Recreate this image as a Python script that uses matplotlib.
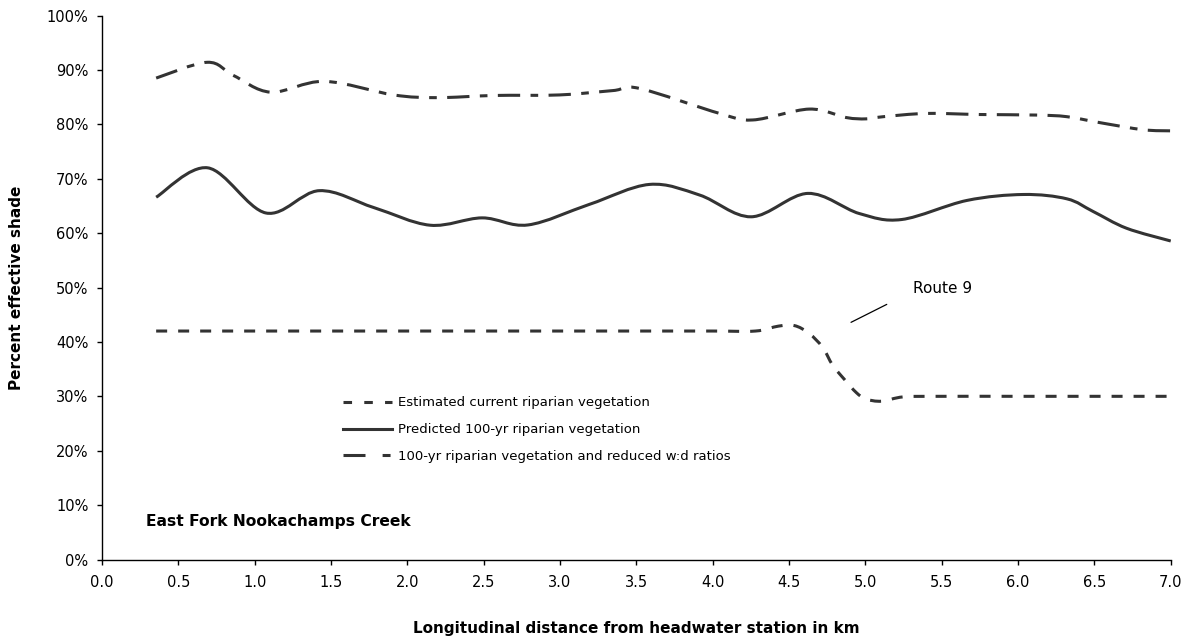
import numpy as np
import matplotlib
matplotlib.use("Agg")
import matplotlib.pyplot as plt
from matplotlib.path import Path
from matplotlib.patches import PathPatch
from matplotlib.lines import Line2D
from matplotlib.ticker import MultipleLocator, PercentFormatter

# values (km, % effective shade)
current_km = [0.355, 1.0, 1.5, 2.0, 2.5, 3.0, 3.5, 4.0, 4.28, 4.43, 4.535, 4.63,
              4.72, 4.786, 4.863, 4.94, 5.004, 5.107, 5.25, 5.5, 6.0, 6.5, 7.0]
current_pct = [42, 42, 42, 42, 42, 42, 42, 42, 42, 42.9, 43.0, 41.6,
               39.0, 35.7, 33.1, 30.7, 29.5, 29.1, 29.9, 30, 30, 30, 30]

veg100_km = [0.355, 0.693, 1.074, 1.422, 1.78, 2.15, 2.49, 2.79, 3.194, 3.586, 3.914,
             4.252, 4.623, 4.96, 5.238, 5.664, 6.035, 6.32, 6.49, 6.71, 7.0]
veg100_pct = [66.6, 72.0, 63.7, 67.8, 64.7, 61.45, 62.8, 61.5, 65.3, 68.95, 67.0,
              63.0, 67.3, 63.6, 62.5, 66.0, 67.1, 66.3, 64.0, 60.9, 58.55]

wd_km = [0.355, 0.69, 0.86, 1.106, 1.455, 1.91, 2.195, 2.565, 2.997, 3.346, 3.52,
         4.045, 4.263, 4.633, 4.873, 5.004, 5.118, 5.40, 5.75, 6.12, 6.32, 6.537, 6.82, 7.0]
wd_pct = [88.5, 91.4, 89.0, 85.9, 87.9, 85.4, 84.9, 85.3, 85.4, 86.2, 86.6,
          82.0, 80.8, 82.8, 81.25, 81.0, 81.4, 82.0, 81.8, 81.7, 81.4, 80.3, 79.0, 78.8]

labels = ["Estimated current riparian vegetation",
          "Predicted 100-yr riparian vegetation",
          "100-yr riparian vegetation and reduced w:d ratios"]

route9_km = [4.906, 5.14]
route9_pct = [43.6, 46.9]

plt.rcParams['font.family'] = ['DejaVu Sans']
line_color = '#333333'
lw = 2.2


def smooth_path(xs, ys):
    # excel style smoothed line (catmull-rom as bezier segments)
    pts = np.column_stack([xs, ys]).astype(float)
    n = len(pts)
    verts = [pts[0]]
    codes = [Path.MOVETO]
    for i in range(n - 1):
        p0 = pts[max(i - 1, 0)]
        p1 = pts[i]
        p2 = pts[i + 1]
        p3 = pts[min(i + 2, n - 1)]
        verts += [p1 + (p2 - p0) / 6, p2 - (p3 - p1) / 6, p2]
        codes += [Path.CURVE4] * 3
    return Path(verts, codes)


fig = plt.figure(figsize=(11.91, 6.38), dpi=100)
ax = fig.add_axes([0.0856, 0.123, 0.8974, 0.8527])

styles = [(0, (3.6, 3.6)), '-', (0, (7.3, 3.4, 2.5, 3.4))]
for xs, ys, ls in zip([current_km, veg100_km, wd_km],
                      [current_pct, veg100_pct, wd_pct], styles):
    ax.add_patch(PathPatch(smooth_path(xs, ys), fill=False, ec=line_color,
                           lw=lw, ls=ls, capstyle='butt'))

ax.annotate("", xy=(route9_km[0], route9_pct[0]), xytext=(route9_km[1], route9_pct[1]),
            arrowprops=dict(arrowstyle='-', color='black', lw=0.9,
                            shrinkA=0, shrinkB=0))
ax.text(5.314, 49.9, "Route 9", fontsize=11, va='center', ha='left')
ax.text(0.041, 0.069, "East Fork Nookachamps Creek", transform=ax.transAxes,
        fontsize=11.2, fontweight='bold', va='center', ha='left')

handles = [Line2D([], [], color=line_color, lw=lw, ls=(0, (2.8, 4))),
           Line2D([], [], color=line_color, lw=lw, ls='-'),
           Line2D([], [], color=line_color, lw=lw, ls=(0, (7.2, 5.6, 2.6, 10)))]
ax.legend(handles, labels, loc='upper left', bbox_to_anchor=(0.2255, 0.30),
          frameon=False, borderpad=0, borderaxespad=0, fontsize=9.5,
          handlelength=3.7, handletextpad=0.5, labelspacing=1.05)

ax.set_xlim(0, 7)
ax.set_ylim(0, 100)
ax.xaxis.set_major_locator(MultipleLocator(0.5))
ax.yaxis.set_major_locator(MultipleLocator(10))
ax.xaxis.set_major_formatter(lambda v, p: f"{v:.1f}")
ax.yaxis.set_major_formatter(PercentFormatter(xmax=100, decimals=0))
ax.tick_params(axis='both', direction='out', length=3.3, width=1, labelsize=10.5)
ax.tick_params(axis='x', pad=8)
ax.tick_params(axis='y', pad=6.5)
for s in ['top', 'right']:
    ax.spines[s].set_visible(False)
for s in ['left', 'bottom']:
    ax.spines[s].set_linewidth(1)

ax.set_xlabel("Longitudinal distance from headwater station in km",
              fontsize=11, fontweight='bold', va='center')
ax.set_ylabel("Percent effective shade", fontsize=11, fontweight='bold', va='center')
ax.xaxis.set_label_coords(0.5, -0.126)
ax.yaxis.set_label_coords(-0.0795, 0.5)

fig.savefig("out.png", dpi=100)
